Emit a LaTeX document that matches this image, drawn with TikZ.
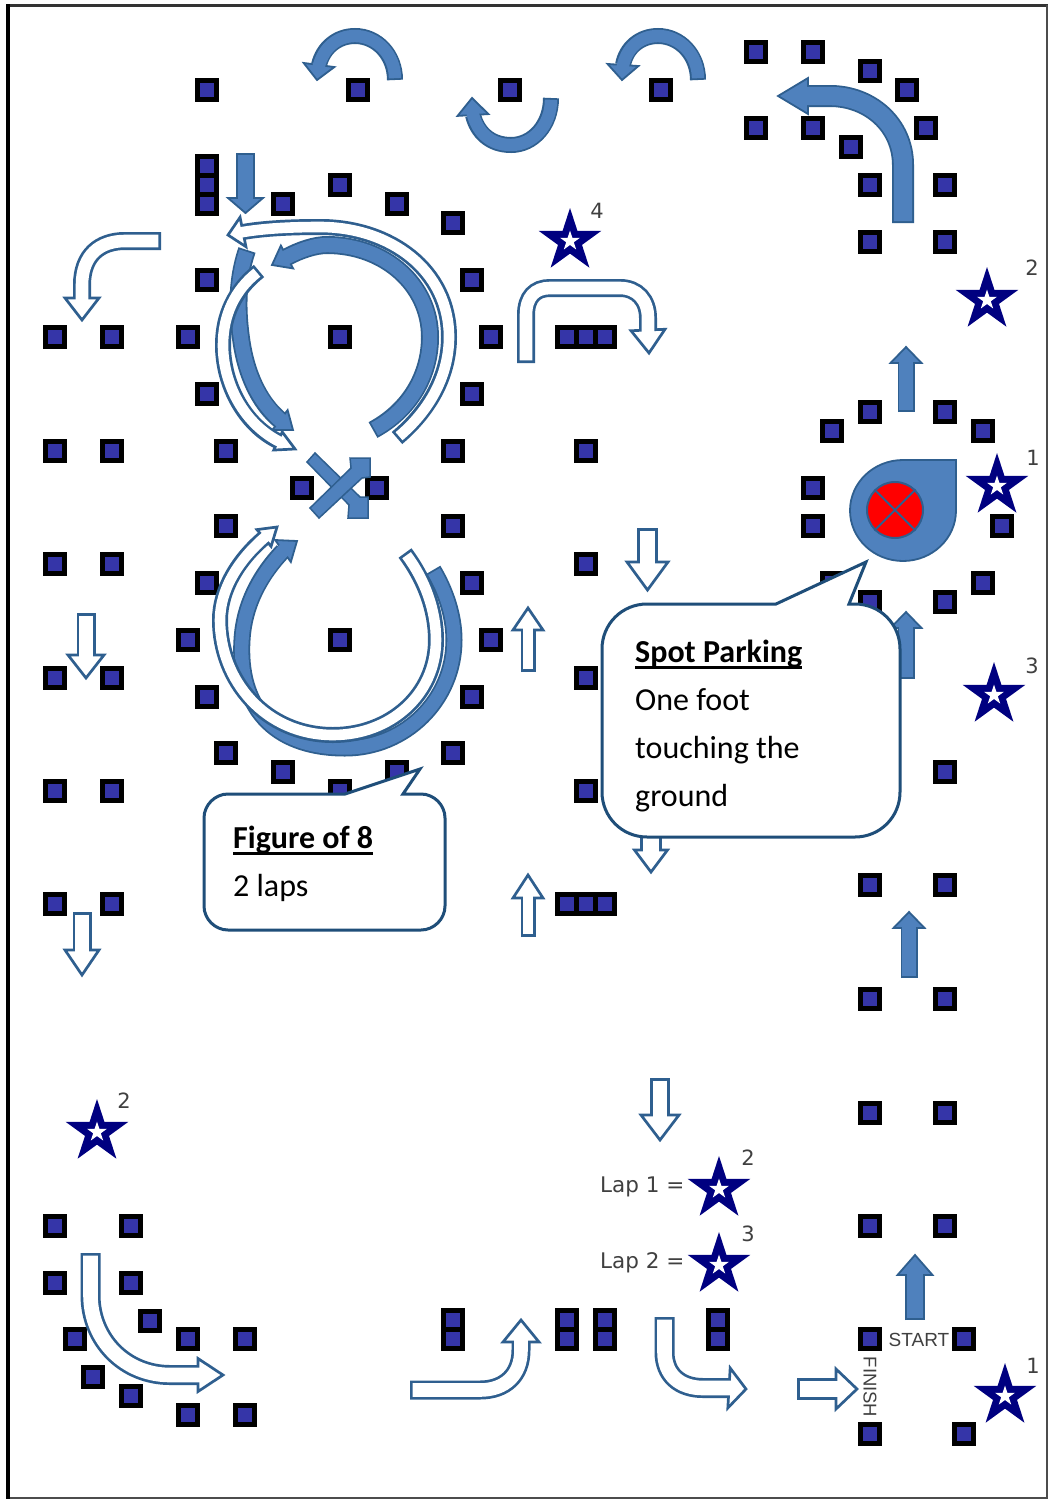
\documentclass[tikz,border=0pt]{standalone}
\usepackage{fontspec}
\setmainfont{Carlito}
\newfontfamily\startfont{Liberation Sans}
\newfontfamily\lapfont{DejaVu Sans}
\newsavebox\ulbox
\newcommand\fatul[1]{\sbox\ulbox{#1}\rlap{\rule[-6pt]{\wd\ulbox}{3pt}}\usebox\ulbox}
\usetikzlibrary{calc,shapes.geometric}
\definecolor{edgec}{HTML}{2F5F8F}
\definecolor{facec}{HTML}{4F81BD}
\definecolor{coneblue}{HTML}{3535A8}
\definecolor{starblue}{HTML}{000080}
\definecolor{txtgray}{HTML}{404040}
\definecolor{calloutc}{HTML}{1F4E79}
\tikzset{
  cone/.style={rectangle,draw=black,fill=coneblue,line width=4.5pt,minimum size=19pt,inner sep=0pt},
  starbig/.style={star,star points=5,star point ratio=2.618,fill=starblue,minimum size=66pt,inner sep=0pt},
  starsmall/.style={star,star points=5,star point ratio=2.618,fill=white,minimum size=21pt,inner sep=0pt},
  numlabel/.style={text=txtgray,font=\lapfont\fontsize{21}{21}\selectfont,inner sep=0pt},
  callout/.style={draw=calloutc,fill=white,line width=3pt,line join=miter},
  callouttext/.style={anchor=north west,align=left,inner sep=0pt,font=\fontsize{32}{48}\selectfont},
  laplabel/.style={text=txtgray,anchor=west,inner sep=0pt,font=\lapfont\fontsize{21.5}{21.5}\selectfont},
  marktext/.style={text=txtgray,inner sep=0pt,font=\startfont\fontsize{19}{19}\selectfont},
}
% border width, face colour, width, spine, head base, tip, head width
\newcommand\flowb[7]{%
  \draw[edgec,line width=#3pt] #4;
  \draw[edgec,fill=#2,line width=#1pt,line join=miter] (#6) -- ($(#5)!#7/2*1pt!90:(#6)$) -- ($(#5)!#7/2*1pt!-90:(#6)$) -- cycle;
  \draw[#2,line width=#3pt-2*#1pt,shorten <=#1pt,shorten >=-3pt] #4;
}
\newcommand\flow{\flowb{1.8}{facec}}
\newcommand\oflow{\flowb{2.7}{white}}
\newcommand\starmark[5]{% name, x, y, number, number position
  \node[starbig] (#1) at (#2,#3) {};
  \node[starsmall] (#1w) at (#2,#3) {};
  \node[numlabel] (#1n) at (#5) {#4};
}
\begin{document}
\begin{tikzpicture}[x=1pt,y=-1pt]
\useasboundingbox (0,0) rectangle (1048,1499);
\fill[white] (0,0) rectangle (1048,1499);
\draw[black!80,line width=3pt] (6,5.5) -- (1048,5.5);
\draw[black!70,line width=2pt] (1047,5) -- (1047,1499);
\draw[black!70,line width=2pt] (6,1498) -- (1048,1498);
\draw[black,line width=4.5pt] (8,4) -- (8,1499);

% cones
\foreach \x/\y in {207/90,358/90,510/90,661/90,756/52,813/52,870/71,907/90,926/128,756/128,813/128,851/147,870/185,945/185,870/242,945/242,
207/166,207/185,207/204,283/204,340/185,397/204,453/223,207/280,472/280,188/337,340/337,491/337,207/394,472/394,226/451,453/451,302/488,377/488,226/526,453/526,207/583,472/583,188/640,340/640,491/640,207/697,472/697,226/753,453/753,283/772,397/772,340/791,
55/337,112/337,55/451,112/451,55/564,112/564,55/678,112/678,55/791,112/791,55/904,112/904,
567/337,586/337,605/337,586/451,586/564,586/678,586/791,567/904,586/904,605/904,
832/431,870/412,945/412,983/431,813/488,813/526,1002/526,832/583,870/602,945/602,983/583,945/772,870/885,945/885,870/999,945/999,870/1113,945/1113,870/1226,945/1226,870/1339,964/1339,870/1434,964/1434,
55/1226,131/1226,55/1283,131/1283,150/1321,75/1339,188/1339,245/1339,93/1377,131/1396,188/1415,245/1415,
453/1320,453/1339,567/1320,567/1339,605/1320,605/1339,718/1320,718/1339}
  \node[cone] (c\x-\y) at (\x,\y) {};

% top arc arrows
\flow{16}{(395,80) .. controls (395,55) and (377,36) .. (355,36) .. controls (337,36) and (323,48) .. (319,65)}{319,65}{317,80}{31}
\flow{16}{(698,80) .. controls (698,55) and (680,36) .. (658,36) .. controls (640,36) and (626,48) .. (623,65)}{623,65}{622,80}{31}
\flow{16}{(551,98) .. controls (551,125) and (533,145) .. (511,145) .. controls (490,145) and (477,132) .. (473,115)}{473,115}{472,98}{31}
% top right bend
\flow{22}{(903,223) -- (903,165) .. controls (903,125) and (870,96) .. (830,96) -- (808,96)}{808,96}{778,96}{36}

% straight filled arrows
\flow{19}{(245.5,153) -- (245.5,198)}{245.5,198}{245.5,213}{35}
\flow{17}{(906,412) -- (906,363)}{906,363}{906,347}{31}
\flow{17}{(906,679) -- (906,628)}{906,628}{906,612}{31}
\flow{17}{(909,978) -- (909,928)}{909,928}{909,912}{31}
\flow{20}{(915,1320) -- (915,1275)}{915,1275}{915,1255}{35}

% outline arrows
\oflow{18}{(161,241) -- (125,241) .. controls (100,241) and (82,255) .. (82,285) -- (82,298)}{82,298}{82,320}{34}
\oflow{18}{(526,363) -- (526,315) .. controls (526,297) and (535,288) .. (550,288) -- (620,288) .. controls (637,288) and (648,300) .. (648,318) -- (648,330)}{648,330}{649,353}{34}
\oflow{21}{(647.5,528) -- (647.5,562)}{647.5,562}{647.5,590}{41}
\oflow{15}{(528,672) -- (528,630)}{528,630}{528,608}{30}
\oflow{19}{(86,613) -- (86,655)}{86,655}{86,678}{36}
\oflow{19}{(82,912) -- (82,950)}{82,950}{82,975}{34}
\oflow{15}{(528,937) -- (528,898)}{528,898}{528,875}{30}
\oflow{22}{(651,800) -- (651,850)}{651,850}{651,872}{33}
\oflow{20}{(660,1078) -- (660,1115)}{660,1115}{660,1140}{38}
\oflow{22}{(797,1389) -- (836,1389)}{836,1389}{857,1389}{40}
\oflow{20}{(664.5,1317) -- (664.5,1352) .. controls (664.5,1375) and (680,1388) .. (703,1388) -- (729,1388)}{729,1388}{746,1389}{40}
\oflow{19}{(410,1390) -- (480,1390) .. controls (505,1390) and (521,1375) .. (521,1350) -- (521,1342)}{521,1342}{521,1320}{36}
\oflow{20}{(90.5,1253) -- (90.5,1295) .. controls (90.5,1340) and (125,1375) .. (170,1375) -- (198,1375)}{198,1375}{223,1375}{33}

% figure of 8, upper loop
\flow{18}{(373,430) .. controls (410,410) and (430,375) .. (430,337) .. controls (430,285) and (385,245) .. (327,245) .. controls (315,245) and (300,250) .. (287,257)}{287,257}{272,265}{26}
\oflow{16}{(397,438) .. controls (430,410) and (449,375) .. (449,337) .. controls (449,270) and (390,227) .. (320,227) .. controls (295,227) and (265,228) .. (243,232)}{243,232}{228,235}{30}
\flow{18}{(247,250) .. controls (235,285) and (238,320) .. (242,345) .. controls (248,380) and (262,405) .. (280,420)}{280,420}{293,430}{25}
\oflow{16}{(259,271) .. controls (235,290) and (223,315) .. (223,345) .. controls (223,385) and (245,425) .. (278,441)}{278,441}{295,449}{20}

% figure of 8, lower loop
\flow{17}{(433,570) .. controls (445,590) and (454,615) .. (454,640) .. controls (454,700) and (405,748) .. (345,748) .. controls (272,748) and (238,705) .. (242,640) .. controls (244,605) and (260,575) .. (283,551)}{283,551}{297,541}{27}
\oflow{16}{(405,553) .. controls (425,580) and (436,610) .. (436,640) .. controls (436,695) and (390,735) .. (333,735) .. controls (265,735) and (220,680) .. (220,620) .. controls (220,590) and (238,560) .. (264,538)}{264,538}{277,527}{22}

% crossing arrows
\draw[edgec,fill=facec,line width=1.5pt,line join=miter] (307,462) -- (315,453) -- (360,497) -- (368,497) -- (368,518) -- (348,518) -- (349,505) -- cycle;
\draw[edgec,fill=facec,line width=1.5pt,line join=miter] (310,508) -- (319,518) -- (362,478) -- (370,477) -- (370,458) -- (350,458) -- (351,468) -- cycle;

% spot parking marker
\draw[edgec,fill=facec,line width=1.8pt,line join=miter] (956,460) -- (956,510.5) .. controls (956,538.4) and (932.3,561) .. (903,561) .. controls (873.7,561) and (850,538.4) .. (850,510.5) .. controls (850,482.6) and (873.7,460) .. (903,460) -- cycle;
\node[circle,fill=red,draw=edgec,line width=2pt,minimum size=56pt,inner sep=0pt] (stop) at (895,510) {};
\draw[edgec,line width=2pt] (stop.45) -- (stop.225);
\draw[edgec,line width=2pt] (stop.135) -- (stop.315);

% stars
\starmark{s4}{570}{241}{4}{597,211}
\starmark{s2a}{987}{300}{2}{1032,268}
\starmark{s1a}{997}{486}{1}{1033,458}
\starmark{s3a}{994}{695}{3}{1032,666}
\starmark{s2b}{97}{1132}{2}{124,1101}
\starmark{s2c}{719}{1189}{2}{748,1158}
\starmark{s3b}{719}{1265}{3}{748,1234}
\starmark{s1b}{1005}{1396}{1}{1033,1366}

% labels
\node[laplabel] (lap1) at (600,1187) {Lap 1 =};
\node[laplabel] (lap2) at (600,1263) {Lap 2 =};
\node[marktext] (start) at (919,1340) {START};
\node[marktext,rotate=-90,font=\startfont\fontsize{18.5}{18.5}\selectfont] (finish) at (870,1387) {FINISH};

% callouts
\draw[callout] (228,794) -- (345,794) -- (420,769) -- (403,794) -- (421,794) .. controls (434,794) and (445,805) .. (445,818) -- (445,906) .. controls (445,919) and (434,930) .. (421,930) -- (228,930) .. controls (215,930) and (204,919) .. (204,906) -- (204,818) .. controls (204,805) and (215,794) .. (228,794) -- cycle;
\node[callouttext] (fig8) at (233,826) {\textbf{\fatul{Figure of 8}}\\2 laps};

\draw[callout] (647,604) -- (776,604) -- (866,562) -- (849,604) -- (855,604) .. controls (880,604) and (900,624) .. (900,649) -- (900,792) .. controls (900,817) and (880,837) .. (855,837) -- (647,837) .. controls (622,837) and (602,817) .. (602,792) -- (602,649) .. controls (602,624) and (622,604) .. (647,604) -- cycle;
\node[callouttext] (spot) at (635,640) {\textbf{\fatul{Spot Parking}}\\One foot\\touching the\\ground};
\end{tikzpicture}
\end{document}
